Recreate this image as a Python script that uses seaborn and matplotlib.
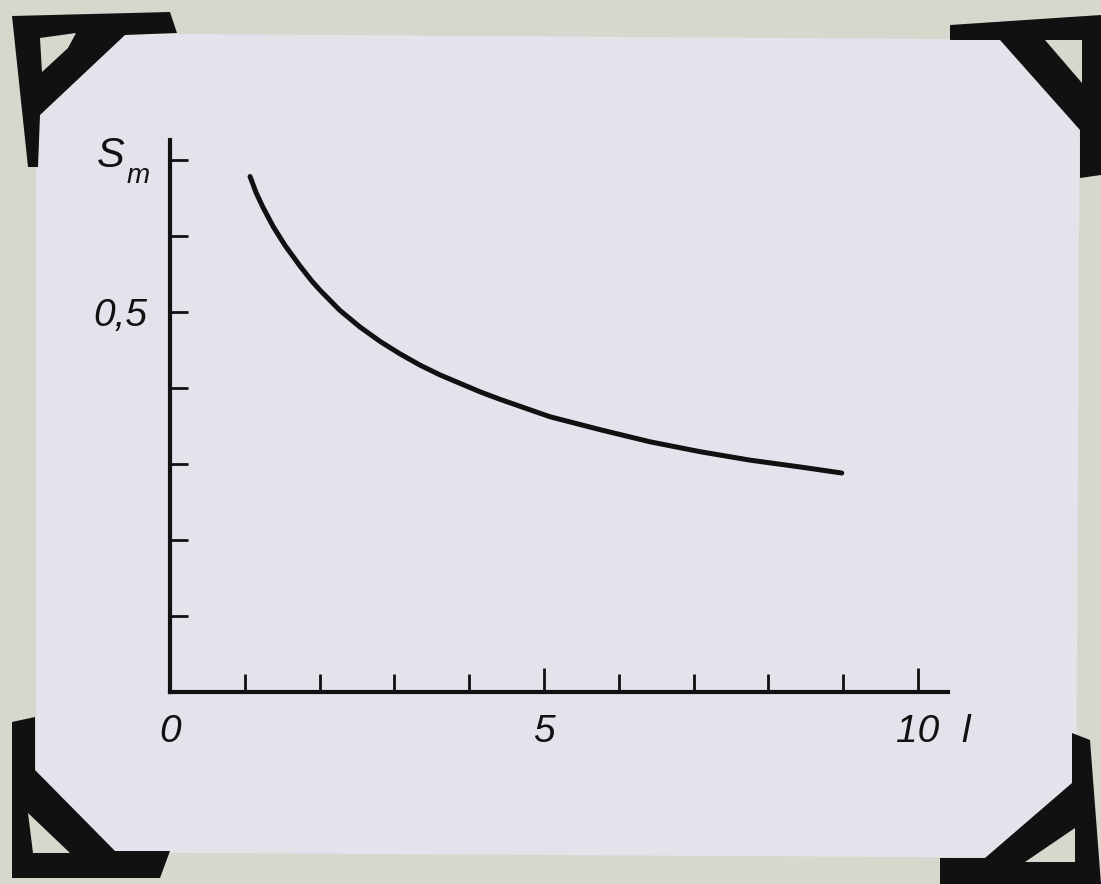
"""
S_m(l) curve on a photographed sheet with photo corners
"""
import matplotlib
matplotlib.use("Agg")
import matplotlib.pyplot as plt
from matplotlib.patches import Polygon
from matplotlib.ticker import FixedLocator, NullFormatter
import seaborn as sns
import pandas as pd

# values
l_values = [1.07, 1.15, 1.24, 1.38, 1.54, 1.74, 1.90, 2.01, 2.14, 2.27, 2.54, 2.81,
            3.07, 3.34, 3.61, 4.14, 4.41, 5.08, 5.75, 6.42, 7.09, 7.75, 8.42, 8.98]
s_values = [0.678, 0.657, 0.638, 0.612, 0.587, 0.560, 0.540, 0.528, 0.515, 0.502, 0.480, 0.461,
            0.445, 0.430, 0.417, 0.395, 0.385, 0.362, 0.345, 0.329, 0.316, 0.305, 0.296, 0.288]

x_major = [0, 5, 10]
x_major_labels = ["0", "5", "10"]
x_minor = [1, 2, 3, 4, 6, 7, 8, 9]
y_ticks = [0.1, 0.2, 0.3, 0.4, 0.5, 0.6, 0.7]
y_tick_labels = ["", "", "", "", "0,5", "", ""]

df = pd.DataFrame({"l": l_values, "S": s_values})

sns.set_theme(style="ticks")
plt.rcParams["font.family"] = ["Liberation Sans Narrow", "Liberation Sans", "DejaVu Sans"]

W, H = 1101, 884
fig = plt.figure(figsize=(W / 100, H / 100), dpi=100)
fig.patch.set_facecolor("#d8d7ce")

INK = "#111111"
BACKDROP = "#d8d7ce"
PAPER = "#e3e3ec"


def px(points):
    # pixel coords (top-left origin) -> figure fraction
    return [(x / W, 1 - y / H) for x, y in points]


def add_poly(points, color, z):
    fig.add_artist(Polygon(px(points), closed=True, facecolor=color,
                           edgecolor="none", transform=fig.transFigure, zorder=z))


# sheet of paper
add_poly([(36, 33), (1080, 40), (1076, 858), (36, 852)], PAPER, -10)

# photo corners
add_poly([(12, 16), (170, 12), (177, 33), (125, 35), (40, 115), (38, 167), (28, 167)], INK, -5)
add_poly([(40, 38), (76, 33), (68, 48), (42, 72)], BACKDROP, -4)
add_poly([(950, 25), (1101, 15), (1101, 175), (1080, 178), (1080, 130), (1000, 40), (950, 40)], INK, -5)
add_poly([(1045, 40), (1082, 40), (1082, 83)], BACKDROP, -4)
add_poly([(12, 722), (35, 717), (35, 770), (115, 851), (170, 851), (160, 878), (12, 878)], INK, -5)
add_poly([(28, 813), (70, 853), (33, 853)], BACKDROP, -4)
add_poly([(1072, 733), (1090, 740), (1101, 884), (940, 884), (940, 858), (985, 858), (1072, 783)], INK, -5)
add_poly([(1075, 828), (1075, 862), (1025, 862)], BACKDROP, -4)

# axes: origin at (170, 692) px, spines end at x=948, y=140
left, right, top, bottom = 170, 948, 140, 692
ax = fig.add_axes([left / W, 1 - bottom / H, (right - left) / W, (bottom - top) / H])
ax.set_facecolor("none")

sns.lineplot(data=df, x="l", y="S", ax=ax, color=INK, linewidth=3.6,
             solid_capstyle="round", solid_joinstyle="round")

ax.set_xlim(0, 10.4)
ax.set_ylim(0, 0.726)

for side in ["top", "right"]:
    ax.spines[side].set_visible(False)
for side in ["left", "bottom"]:
    ax.spines[side].set_linewidth(3)
    ax.spines[side].set_color(INK)

ax.set_xticks(x_major)
ax.set_xticklabels(x_major_labels)
ax.xaxis.set_minor_locator(FixedLocator(x_minor))
ax.xaxis.set_minor_formatter(NullFormatter())
ax.set_yticks(y_ticks)
ax.set_yticklabels(y_tick_labels)

ax.tick_params(axis="x", which="major", direction="in", length=17, width=2,
               color=INK, pad=16, labelsize=28, labelcolor=INK)
ax.tick_params(axis="x", which="minor", direction="in", length=13, width=2, color=INK)
ax.tick_params(axis="y", which="major", direction="in", length=13, width=2,
               color=INK, pad=16, labelsize=28, labelcolor=INK)
for lab in ax.get_xticklabels() + ax.get_yticklabels():
    lab.set_fontstyle("italic")

# axis labels
ax.set_xlabel("l", fontsize=28, fontstyle="italic", color=INK)
ax.xaxis.set_label_coords(1.023, -0.04)
ax.set_ylabel("S", fontsize=30, fontstyle="italic", color=INK, rotation=0)
ax.yaxis.set_label_coords(-0.076, 0.935)
ax.text(-0.041, 0.935, "m", transform=ax.transAxes, fontsize=20,
        fontstyle="italic", color=INK, ha="center", va="center")

plt.savefig("out.png", dpi=100, facecolor=fig.get_facecolor())
